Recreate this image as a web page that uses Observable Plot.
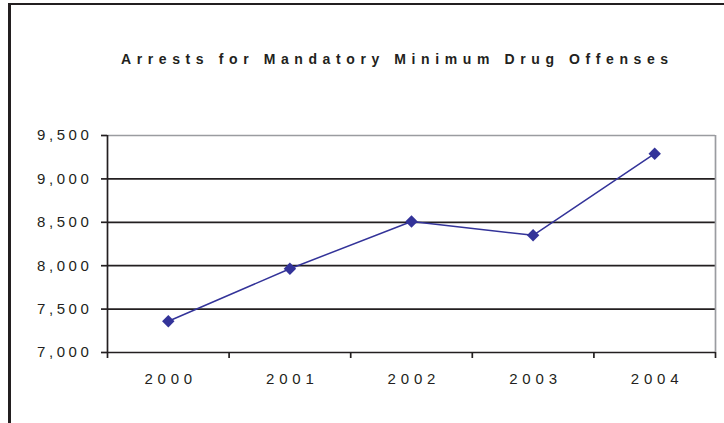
<!DOCTYPE html>
<html>
<head>
<meta charset="utf-8">
<script src="https://cdn.jsdelivr.net/npm/d3@7"></script>
<script src="https://cdn.jsdelivr.net/npm/@observablehq/plot@0.6"></script>
<style>
  html, body { margin: 0; padding: 0; background: #fff; }
  #wrap { position: relative; width: 724px; height: 423px; overflow: hidden; font-family: "Liberation Sans", Arial, sans-serif; }
  #frame { position: absolute; left: 8px; top: 3px; width: 730px; height: 430px; border-left: 3px solid #231f20; border-top: 2px solid #231f20; box-sizing: border-box; }
  #title { position: absolute; left: 121px; top: 51px; font-size: 14px; font-weight: bold; letter-spacing: 5.6px; color: #231f20; white-space: nowrap; }
  #chart { position: absolute; left: 0; top: 0; }
  #chart svg .ylab text { letter-spacing: 3.6px; }
  #chart svg .xlab text { letter-spacing: 4.8px; }
</style>
</head>
<body>
<div id="wrap">
  <div id="frame"></div>
  <div id="title"></div>
  <div id="chart"></div>
</div>
<script>
const title = "Arrests for Mandatory Minimum Drug Offenses";
const years = [2000, 2001, 2002, 2003, 2004];
const arrests = [7360, 7965, 8510, 8350, 9290];
const yTicks = [7000, 7500, 8000, 8500, 9000, 9500];

const data = years.map((year, i) => ({year, value: arrests[i]}));
const bounds = years.map(y => y - 0.5).concat([years[years.length - 1] + 0.5]);
const dark = "#231f20";
const gray = "#9a9ca0";
const navy = "#333399";

document.getElementById("title").textContent = title;

const chart = Plot.plot({
  width: 724,
  height: 423,
  marginLeft: 107,
  marginRight: 9,
  marginTop: 135,
  marginBottom: 71,
  style: {fontFamily: '"Liberation Sans", Arial, sans-serif', color: dark, background: "transparent", overflow: "visible"},
  x: {domain: [bounds[0], bounds[bounds.length - 1]], axis: null, label: null},
  y: {domain: [yTicks[0], yTicks[yTicks.length - 1]], axis: null, label: null},
  marks: [
    Plot.ruleY(yTicks.slice(1, -1), {stroke: dark, strokeWidth: 1.7}),
    Plot.ruleY(yTicks.slice(-1), {stroke: gray, strokeWidth: 1.7}),
    Plot.ruleX(bounds.slice(-1), {stroke: gray, strokeWidth: 1.7}),
    Plot.ruleY(yTicks.slice(0, 1), {stroke: dark, strokeWidth: 1.7}),
    Plot.ruleX(bounds.slice(0, 1), {stroke: dark, strokeWidth: 1.7}),
    Plot.axisY({ticks: yTicks, tickSize: 6, tickFormat: d3.format(","), tickPadding: 9, fontSize: 15, stroke: dark, strokeWidth: 1.7, fill: dark, label: null, className: "ylab"}),
    Plot.axisX({ticks: bounds, tickSize: 6, tickFormat: () => "", stroke: dark, strokeWidth: 1.7, label: null}),
    Plot.text(data, {x: "year", text: d => String(d.year), frameAnchor: "bottom", dy: 31.5, dx: 2.4, fontSize: 15, fill: dark, className: "xlab"}),
    Plot.line(data, {x: "year", y: "value", stroke: navy, strokeWidth: 1.5}),
    Plot.dot(data, {x: "year", y: "value", symbol: "diamond2", r: 5.6, fill: navy, stroke: "none"})
  ]
});
document.getElementById("chart").appendChild(chart);
</script>
</body>
</html>
